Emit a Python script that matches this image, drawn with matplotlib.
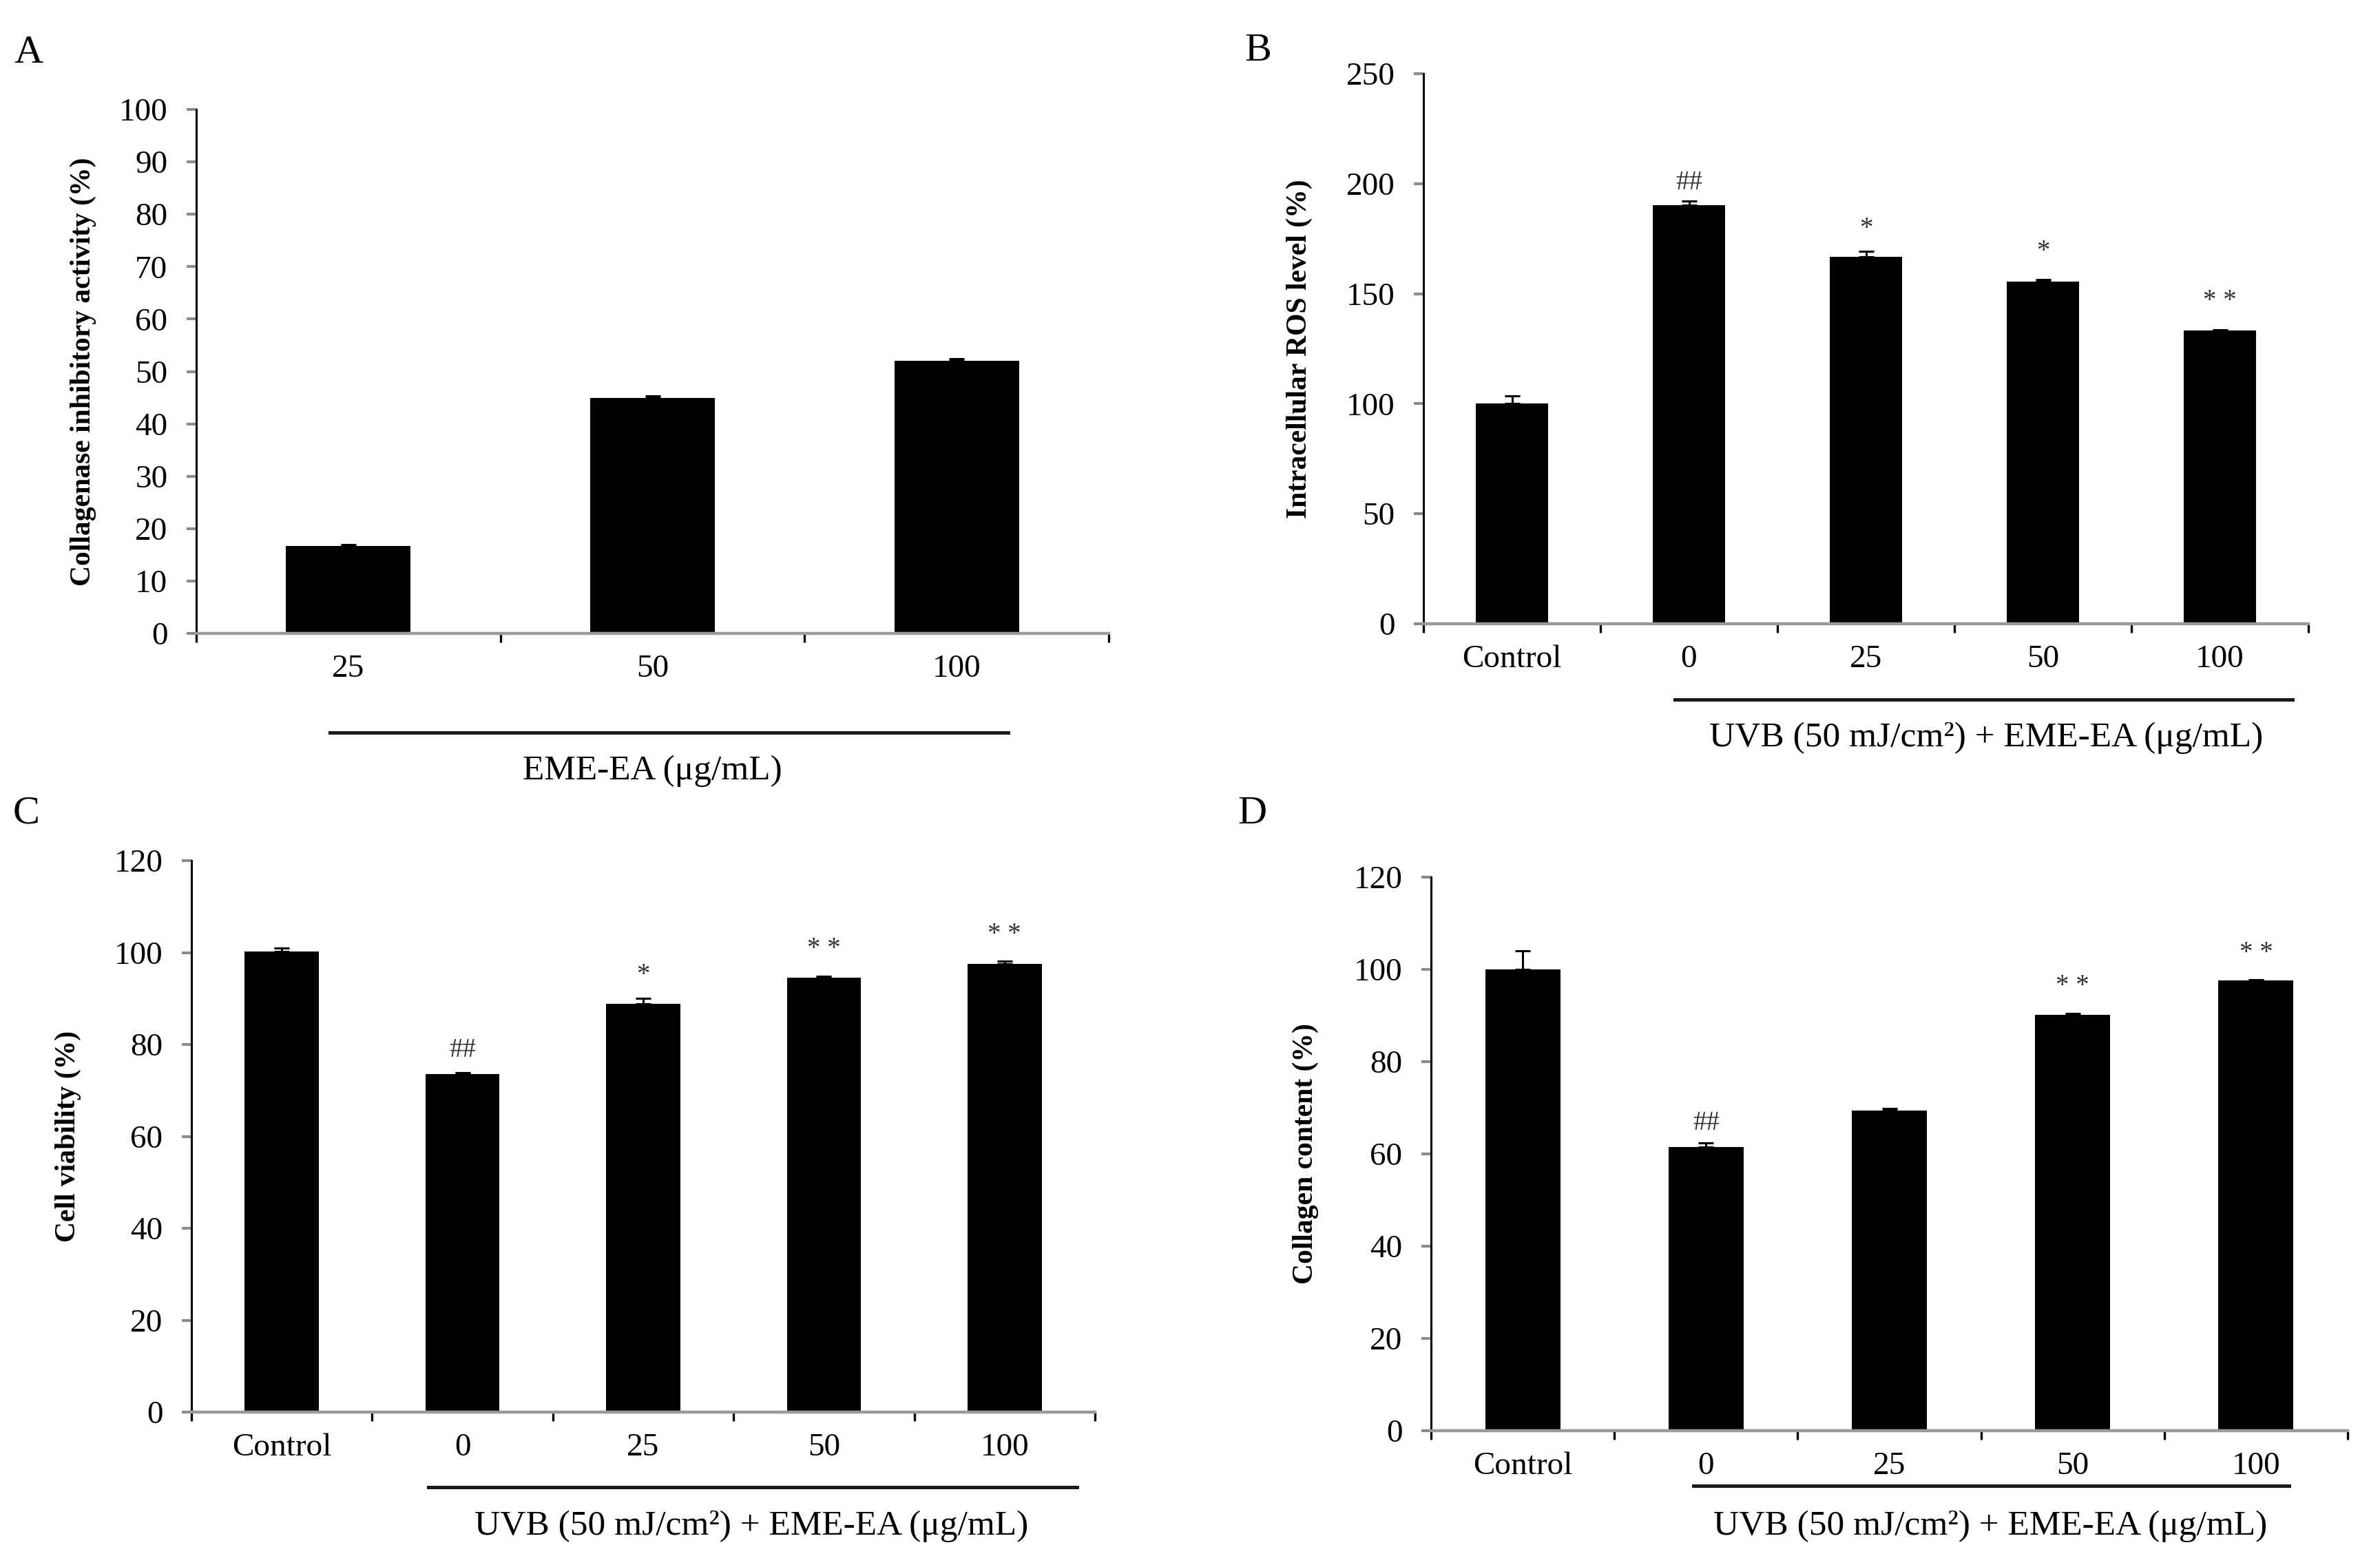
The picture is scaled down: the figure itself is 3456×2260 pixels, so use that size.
import matplotlib
matplotlib.use("Agg")
import matplotlib.pyplot as plt
import matplotlib.transforms as mtransforms
import numpy as np

plt.rcParams['font.family'] = ['Liberation Serif', 'DejaVu Serif']

# ---------------- data ----------------
a_cats = ["25", "50", "100"]
a_vals = [16.7, 45.0, 52.1]
a_err = [0.3, 0.3, 0.3]

b_cats = ["Control", "0", "25", "50", "100"]
b_vals = [100.1, 190.1, 166.7, 155.6, 133.4]
b_err = [3.4, 2.0, 2.7, 1.0, 0.3]
b_marks = ["", "##", "*", "*", "**"]
b_mark_y = [None, 200.5, 179.5, 169.0, 146.5]

c_cats = ["Control", "0", "25", "50", "100"]
c_vals = [100.2, 73.6, 88.9, 94.5, 97.6]
c_err = [0.7, 0.2, 1.1, 0.4, 0.5]
c_marks = ["", "##", "*", "**", "**"]
c_mark_y = [None, 78.7, 95.1, 100.7, 103.9]

d_cats = ["Control", "0", "25", "50", "100"]
d_vals = [100.0, 61.5, 69.4, 90.2, 97.6]
d_err = [4.1, 0.9, 0.5, 0.3, 0.2]
d_marks = ["", "##", "", "**", "**"]
d_mark_y = [None, 66.7, None, 96.3, 103.5]

W, H = 3456, 2260
DPI = 200
fig = plt.figure(figsize=(W / DPI, H / DPI), dpi=DPI)

def px_axes(l, r, t, b):
    return fig.add_axes([l / W, 1 - b / H, (r - l) / W, (b - t) / H])

def setup(ax, cats, vals, err, ymax, ystep, ylabel, ylab_px, line_x, line_y):
    n = len(cats)
    x = np.arange(n)
    ax.bar(x, vals, width=0.41, color='black', zorder=2)
    ax.errorbar(x, vals, yerr=[[0] * n, err], fmt='none', ecolor='black',
                elinewidth=1.1, capsize=4, capthick=1.1, zorder=3)
    ax.set_xlim(-0.5, n - 0.5)
    ax.set_ylim(0, ymax)
    ax.set_yticks(np.arange(0, ymax + 0.1, ystep))
    ax.set_xticks(np.arange(-0.5, n, 1.0))
    ax.set_xticklabels([])
    ax.set_xticks(x, minor=True)
    ax.set_xticklabels(cats, minor=True)
    ax.tick_params(axis='x', which='major', length=4.5, width=1.2,
                   color='black', direction='out')
    ax.tick_params(axis='x', which='minor', length=0, pad=11, labelsize=17)
    ax.tick_params(axis='y', length=5, width=1.5, color='#8c8c8c',
                   direction='out', pad=10, labelsize=17)
    for s in ['top', 'right']:
        ax.spines[s].set_visible(False)
    ax.spines['left'].set_color('black')
    ax.spines['left'].set_linewidth(1.1)
    ax.spines['bottom'].set_color('#9a9a9a')
    ax.spines['bottom'].set_linewidth(1.6)
    ax.spines['left'].set_zorder(4)
    ax.spines['bottom'].set_zorder(4)
    ax.set_ylabel(ylabel, fontsize=15, fontweight='bold')
    bbox = ax.get_position()
    ax.yaxis.set_label_coords(-ylab_px / (bbox.width * W), 0.5)
    trans = mtransforms.blended_transform_factory(ax.transData, ax.transAxes)
    ax.plot(line_x, [line_y, line_y], color='#1a1a1a', lw=1.8,
            transform=trans, clip_on=False)
    return trans

def marks(ax, labels, ys):
    for i, (m, y) in enumerate(zip(labels, ys)):
        if m:
            ax.text(i, y, m.replace("**", "* *"), ha='center', va='center',
                    fontsize=14, color='#333333')

# Panel A
axA = px_axes(285, 1610, 159, 920)
tA = setup(axA, a_cats, a_vals, a_err, 100, 10,
           "Collagenase inhibitory activity (%)", 145, [-0.06, 2.17], -0.189)
axA.text(1.0, -0.263, "EME-EA (\u03bcg/mL)", transform=tA, ha='center',
         va='center', fontsize=18.5)

# Panel B
axB = px_axes(2067, 3352, 107, 906)
tB = setup(axB, b_cats, b_vals, b_err, 250, 50,
           "Intracellular ROS level (%)", 161, [0.92, 4.41], -0.138)
axB.text(2.68, -0.208, "UVB (50 mJ/cm\u00b2) + EME-EA (\u03bcg/mL)",
         transform=tB, ha='center', va='center', fontsize=18.5)
marks(axB, b_marks, b_mark_y)

# Panel C
axC = px_axes(278, 1590, 1250, 2051)
tC = setup(axC, c_cats, c_vals, c_err, 120, 20,
           "Cell viability (%)", 160, [0.81, 4.40], -0.136)
axC.text(2.6, -0.207, "UVB (50 mJ/cm\u00b2) + EME-EA (\u03bcg/mL)",
         transform=tC, ha='center', va='center', fontsize=18.5)
marks(axC, c_marks, c_mark_y)

# Panel D
axD = px_axes(2078, 3409, 1274, 2078)
tD = setup(axD, d_cats, d_vals, d_err, 120, 20,
           "Collagen content (%)", 163, [0.93, 4.18], -0.0995)
axD.text(2.55, -0.173, "UVB (50 mJ/cm\u00b2) + EME-EA (\u03bcg/mL)",
         transform=tD, ha='center', va='center', fontsize=18.5)
marks(axD, d_marks, d_mark_y)

# Panel letters
for lab, (px, py) in zip("ABCD", [(41, 77), (1827, 74), (38, 1182), (1818, 1182)]):
    fig.text(px / W, 1 - py / H, lab, ha='center', va='center', fontsize=21)

fig.savefig("out.png", dpi=DPI, facecolor='white')
